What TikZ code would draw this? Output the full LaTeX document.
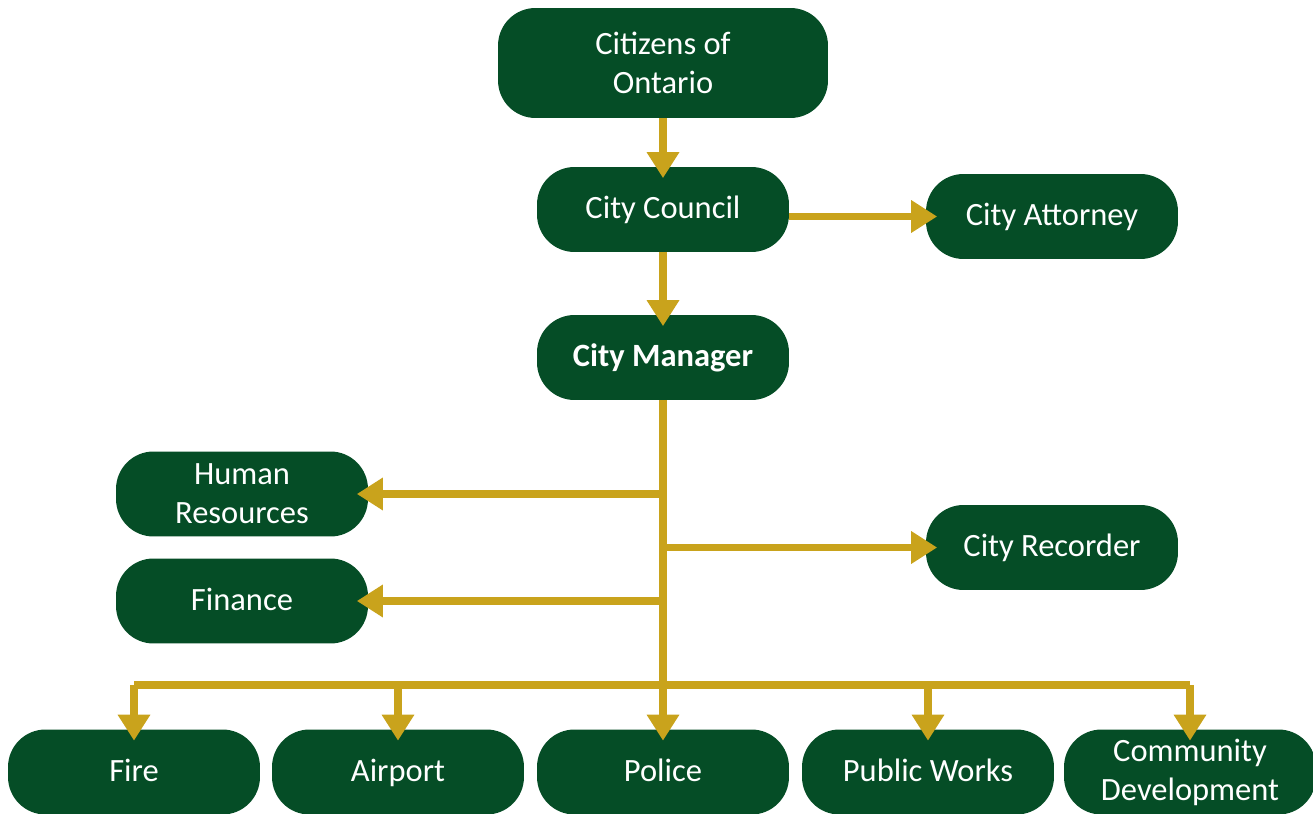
\documentclass[tikz,border=0pt]{standalone}
\usepackage{fontspec}
\setmainfont{Carlito}
\usepackage{tikz}
\usepackage{xcolor}
\usetikzlibrary{arrows.meta, positioning, calc}

\definecolor{cityGreen}{HTML}{054D26}
\definecolor{cityGold}{HTML}{C9A31C}

\begin{document}
\begin{tikzpicture}[x=0.02cm, y=-0.02cm,
    box/.style={fill=cityGreen, text=white, rounded corners=0.75cm,
      minimum width=5.04cm, minimum height=1.7cm, align=center,
      font=\fontsize{18.5}{22.2}\selectfont},
    oneline/.style={text height=1.3em, text depth=0.25em},
    link/.style={draw=cityGold, line width=0.15cm,
      -{Triangle[length=0.52cm, width=0.62cm]}, shorten >=-0.23cm},
    bar/.style={draw=cityGold, line width=0.15cm}]
  \useasboundingbox (0,0) rectangle (1313,814);

  % top of the chart
  \node[box, minimum width=6.6cm, minimum height=2.2cm] (citizens) at (663,63) {Citizens of\\Ontario};
  \node[box, oneline] (council) at (663,209.5) {City Council};
  \node[box, oneline] (attorney) at (1052,216.5) {City Attorney};
  \node[box, oneline, font=\fontsize{18.5}{22.2}\selectfont\bfseries] (manager) at (663,357.5) {City Manager};

  % staff offices
  \node[box] (hr) at (242,494) {Human\\Resources};
  \node[box, oneline] (recorder) at (1052,547.5) {City Recorder};
  \node[box, oneline] (finance) at (242,601) {Finance};

  % departments
  \node[box, oneline] (fire) at (134,772) {Fire};
  \node[box, oneline] (airport) at (398,772) {Airport};
  \node[box, oneline] (police) at (663,772) {Police};
  \node[box, oneline] (works) at (928,772) {Public Works};
  \node[box] (community) at (1190,772) {Community\\Development};

  \coordinate (bus) at (663,685);

  \draw[link] (citizens) -- (council);
  \draw[link] (council.east |- attorney) -- (attorney);
  \draw[link] (council) -- (manager);
  \draw[link] (manager) -- (police);

  \draw[link] (manager.south |- hr) -- (hr.east);
  \draw[link] (manager.south |- recorder) -- (recorder.west);
  \draw[link] (manager.south |- finance) -- (finance.east);

  \draw[bar] (fire.north |- bus) -- (community.north |- bus);
  \foreach \dept in {fire, airport, works, community}
    \draw[link] (\dept.north |- bus) -- (\dept.north);
\end{tikzpicture}
\end{document}
